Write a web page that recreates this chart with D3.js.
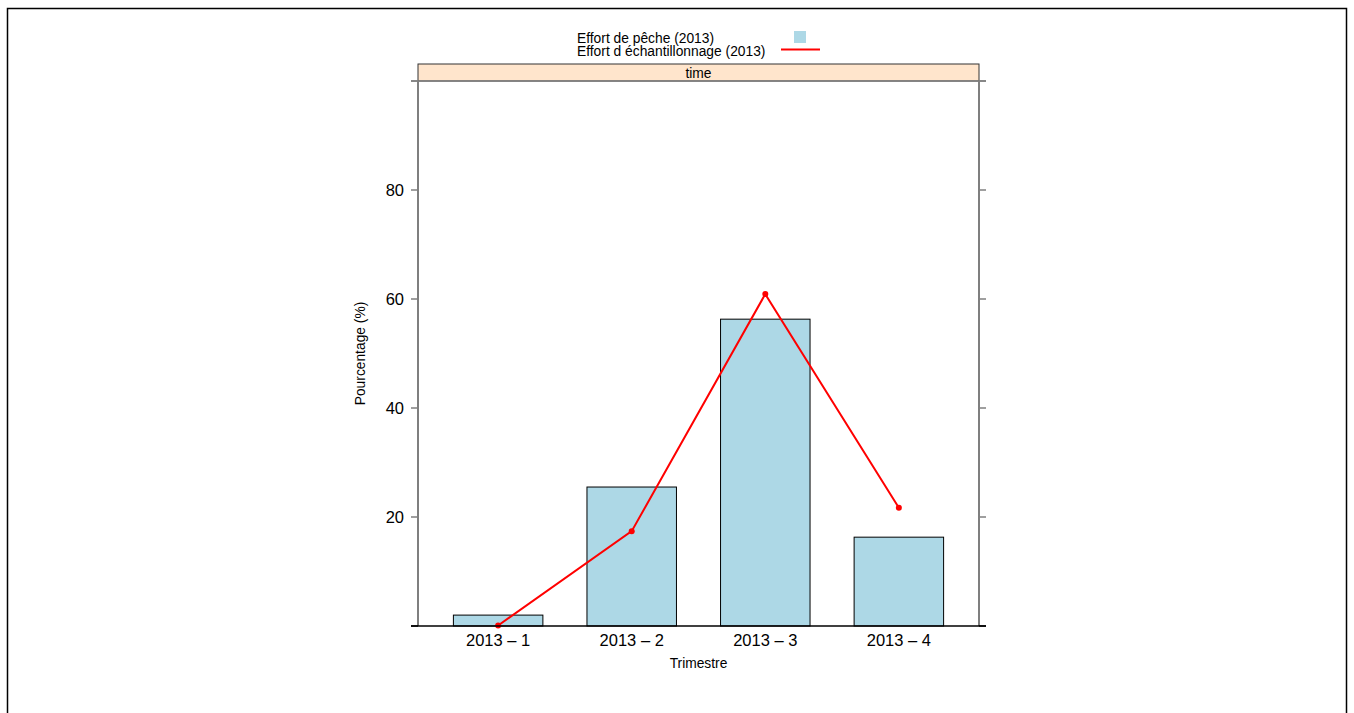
<!DOCTYPE html>
<html>
<head>
<meta charset="utf-8">
<script src="https://cdn.jsdelivr.net/npm/d3@7"></script>
<style>
  body { margin: 0; background: #fff; }
  text { font-family: "Liberation Sans", Arial, sans-serif; }
</style>
</head>
<body>
<div id="chart"></div>
<script>
// values
const quarters = ["2013 \u2013 1", "2013 \u2013 2", "2013 \u2013 3", "2013 \u2013 4"];
const fishingEffort = [2.0, 25.5, 56.3, 16.3];
const samplingEffort = [0.1, 17.4, 60.9, 21.7];
const yTicks = [0, 20, 40, 60, 80, 100];
const yLabels = [20, 40, 60, 80];

const W = 1354, H = 713;
const panel = { left: 418, right: 979, top: 81, bottom: 626 };

const svg = d3.select("#chart").append("svg")
    .attr("width", W).attr("height", H);

svg.append("rect")
    .attr("x", 7.5).attr("y", 8.5)
    .attr("width", 1339).attr("height", 720)
    .attr("fill", "none").attr("stroke", "#000").attr("stroke-width", 1.5);

// lattice style factor scale: 0.4 .. 4.6
const x = d3.scaleLinear().domain([0.4, 4.6]).range([panel.left, panel.right]);
const y = d3.scaleLinear().domain([0, 100]).range([panel.bottom, panel.top]);
const barW = (x(1) - x(0)) * 0.67;

// strip
svg.append("rect")
    .attr("x", panel.left).attr("y", 64)
    .attr("width", panel.right - panel.left).attr("height", panel.top - 64)
    .attr("fill", "#ffe5cc").attr("stroke", "#333").attr("stroke-width", 1);
svg.append("text")
    .attr("x", (panel.left + panel.right) / 2).attr("y", 77.5)
    .attr("text-anchor", "middle").attr("font-size", 13.8)
    .text("time");

// bars
svg.selectAll(".bar")
    .data(fishingEffort)
    .enter().append("rect")
    .attr("class", "bar")
    .attr("x", (d, i) => x(i + 1) - barW / 2)
    .attr("y", d => y(d))
    .attr("width", barW)
    .attr("height", d => y(0) - y(d))
    .attr("fill", "#add8e6")
    .attr("stroke", "#000")
    .attr("stroke-width", 1);

// sampling effort line
const line = d3.line()
    .x((d, i) => x(i + 1))
    .y(d => y(d));

svg.append("path")
    .datum(samplingEffort)
    .attr("d", line)
    .attr("fill", "none")
    .attr("stroke", "#ff0000")
    .attr("stroke-width", 2);

svg.selectAll(".pt")
    .data(samplingEffort)
    .enter().append("circle")
    .attr("class", "pt")
    .attr("cx", (d, i) => x(i + 1))
    .attr("cy", d => y(d))
    .attr("r", 3)
    .attr("fill", "#ff0000");

// panel border (gray sides)
const gray = "#7f7f7f";
svg.append("line")
    .attr("x1", panel.left).attr("x2", panel.left)
    .attr("y1", panel.top).attr("y2", panel.bottom)
    .attr("stroke", gray).attr("stroke-width", 2);
svg.append("line")
    .attr("x1", panel.right).attr("x2", panel.right)
    .attr("y1", panel.top).attr("y2", panel.bottom)
    .attr("stroke", gray).attr("stroke-width", 2);

// y ticks both sides
const tickG = svg.append("g");
tickG.selectAll(".tl")
    .data(yTicks)
    .enter().append("line")
    .attr("x1", panel.left - 7).attr("x2", panel.left)
    .attr("y1", d => y(d)).attr("y2", d => y(d))
    .attr("stroke", d => d === 0 ? "#000" : gray).attr("stroke-width", 1.5);
tickG.selectAll(".tr")
    .data(yTicks)
    .enter().append("line")
    .attr("x1", panel.right).attr("x2", panel.right + 7)
    .attr("y1", d => y(d)).attr("y2", d => y(d))
    .attr("stroke", d => d === 0 ? "#000" : gray).attr("stroke-width", 1.5);

svg.append("line")
    .attr("x1", panel.left - 7).attr("x2", panel.right + 7)
    .attr("y1", panel.top).attr("y2", panel.top)
    .attr("stroke", gray).attr("stroke-width", 1.5);

tickG.selectAll(".yl")
    .data(yLabels)
    .enter().append("text")
    .attr("x", panel.left - 14).attr("y", d => y(d) + 6)
    .attr("text-anchor", "end").attr("font-size", 16.5)
    .text(d => d);

// bottom axis
svg.append("line")
    .attr("x1", panel.left - 7).attr("x2", panel.right + 7)
    .attr("y1", panel.bottom).attr("y2", panel.bottom)
    .attr("stroke", "#000").attr("stroke-width", 1.5);

svg.selectAll(".xl")
    .data(quarters)
    .enter().append("text")
    .attr("x", (d, i) => x(i + 1)).attr("y", panel.bottom + 20)
    .attr("text-anchor", "middle").attr("font-size", 16.5)
    .text(d => d);

// axis titles
svg.append("text")
    .attr("x", (panel.left + panel.right) / 2).attr("y", 668)
    .attr("text-anchor", "middle").attr("font-size", 13.8)
    .text("Trimestre");
svg.append("text")
    .attr("transform", `translate(365, ${(panel.top + panel.bottom) / 2}) rotate(-90)`)
    .attr("text-anchor", "middle").attr("font-size", 13.8)
    .text("Pourcentage (%)");

// legend
svg.append("text")
    .attr("x", 577).attr("y", 43).attr("font-size", 13.8)
    .text("Effort de p\u00eache (2013)");
svg.append("text")
    .attr("x", 577).attr("y", 56).attr("font-size", 13.8)
    .text("Effort d \u00e9chantillonnage (2013)");
svg.append("rect")
    .attr("x", 794).attr("y", 31).attr("width", 12).attr("height", 12)
    .attr("fill", "#add8e6");
svg.append("line")
    .attr("x1", 781).attr("x2", 820).attr("y1", 49.5).attr("y2", 49.5)
    .attr("stroke", "#ff0000").attr("stroke-width", 2);
</script>
</body>
</html>
